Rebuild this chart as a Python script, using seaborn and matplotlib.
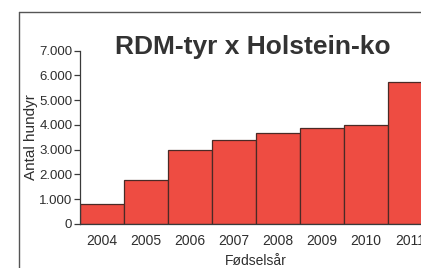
import matplotlib
matplotlib.use("Agg")
import matplotlib.pyplot as plt
from matplotlib.lines import Line2D
import seaborn as sns
import pandas as pd

years = ["2004", "2005", "2006", "2007", "2008", "2009", "2010", "2011"]
counts = [810, 1770, 2980, 3390, 3670, 3870, 3990, 5730]
ytick_values = [0, 1000, 2000, 3000, 4000, 5000, 6000, 7000]
ytick_labels = ["0", "1.000", "2.000", "3.000", "4.000", "5.000", "6.000", "7.000"]
title = "RDM-tyr x Holstein-ko"
xlabel = "Fødselsår"
ylabel = "Antal hundyr"

sns.set_style("white")
plt.rcParams["font.family"] = ["Liberation Sans", "DejaVu Sans"]

W, H = 421, 268
fig = plt.figure(figsize=(W / 100, H / 100), dpi=100)
fig.patch.set_facecolor("white")

left, right, bottom, top = 80, 432, 224, 50.5
ax = fig.add_axes([left / W, 1 - bottom / H, (right - left) / W, (bottom - top) / H])

df = pd.DataFrame({"year": years, "count": counts})
sns.barplot(data=df, x="year", y="count", ax=ax, color="#EE4C42", saturation=1,
            width=1.0, edgecolor="#4a2a26", linewidth=0.9)

ax.set_ylim(0, 7000)
ax.set_xlim(-0.5, len(years) - 0.5)
ax.set_yticks(ytick_values)
ax.set_yticklabels(ytick_labels)
txtcol = "#2e2e2e"
ax.tick_params(axis="y", which="both", left=True, length=4, width=0.9, colors="#3a3a3a",
               labelsize=9.5, labelcolor=txtcol, pad=1.5)
ax.tick_params(axis="x", bottom=False, labelsize=10, labelcolor=txtcol, pad=4)
for s in ["top", "right"]:
    ax.spines[s].set_visible(False)
for s in ["left", "bottom"]:
    ax.spines[s].set_color("#3a3a3a")
    ax.spines[s].set_linewidth(0.9)

ax.set_xlabel(xlabel, fontsize=10, color=txtcol, labelpad=4)
ax.set_ylabel(ylabel, fontsize=11, color=txtcol)
ax.yaxis.set_label_coords((38 - left) / (right - left), 0.5)

fig.text(253 / W, 1 - 54 / H, title, ha="center", va="baseline", fontsize=19,
         fontweight="bold", color="#333333")

# outer frame (scan border)
fig.add_artist(Line2D([19 / W, 19 / W], [1 - 12 / H, 0], transform=fig.transFigure,
                      color="#555555", linewidth=1))
fig.add_artist(Line2D([19 / W, 1], [1 - 12 / H, 1 - 12 / H], transform=fig.transFigure,
                      color="#555555", linewidth=1))

fig.savefig("out.png", dpi=100)
